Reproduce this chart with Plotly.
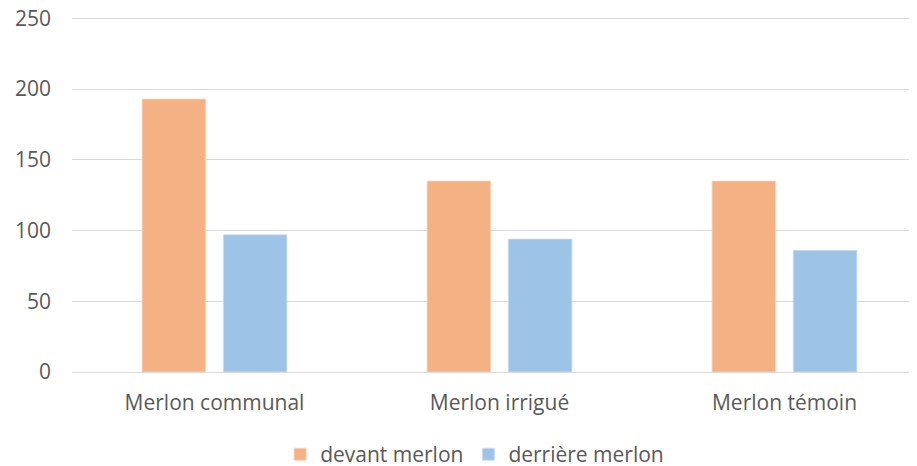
import plotly.graph_objects as go

categories = ["Merlon communal", "Merlon irrigué", "Merlon témoin"]
devant_merlon = [193, 135, 135]
derriere_merlon = [97, 94, 86]
y_ticks = [0, 50, 100, 150, 200, 250]

FONT = "Open Sans"
GREY = "#595959"
GRID = "#D9D9D9"

fig = go.Figure()
fig.add_trace(go.Bar(
    x=categories, y=devant_merlon, name="devant merlon",
    marker=dict(color="#F4B183", line=dict(color="#FAD3B6", width=0.8)),
    width=0.223, offset=-0.254,
))
fig.add_trace(go.Bar(
    x=categories, y=derriere_merlon, name="derrière merlon",
    marker=dict(color="#9DC3E6", line=dict(color="#C9DDF0", width=0.8)),
    width=0.223, offset=0.031,
))

# the page body has an 8px margin, so the figure is sized to fit inside the window
fig.update_layout(
    width=909, height=458,
    margin=dict(l=64, r=0, t=9, b=94, autoexpand=False),
    paper_bgcolor="white", plot_bgcolor="white",
    barmode="overlay",
    font=dict(family=FONT, size=21, color=GREY),
    showlegend=True,
    legend=dict(
        orientation="h", x=0.4765, xanchor="center",
        yref="container", y=0.025, yanchor="middle",
        font=dict(family=FONT, size=21, color=GREY),
        itemwidth=30, traceorder="normal",
    ),
    xaxis=dict(
        type="category", range=[-0.5, 2.465], automargin=False,
        showgrid=False, showline=True, linecolor=GRID, linewidth=1.3,
        ticks="", tickfont=dict(family=FONT, size=21, color=GREY),
        ticklabelstandoff=12,
    ),
    yaxis=dict(
        range=[0, 251], tickvals=y_ticks, automargin=False,
        showgrid=True, gridcolor=GRID, gridwidth=1.3,
        zeroline=False, showline=False, ticks="",
        tickfont=dict(family=FONT, size=21, color=GREY),
        ticklabelstandoff=20, ticklabeloverflow="allow",
    ),
)

fig.write_html("out.html")
